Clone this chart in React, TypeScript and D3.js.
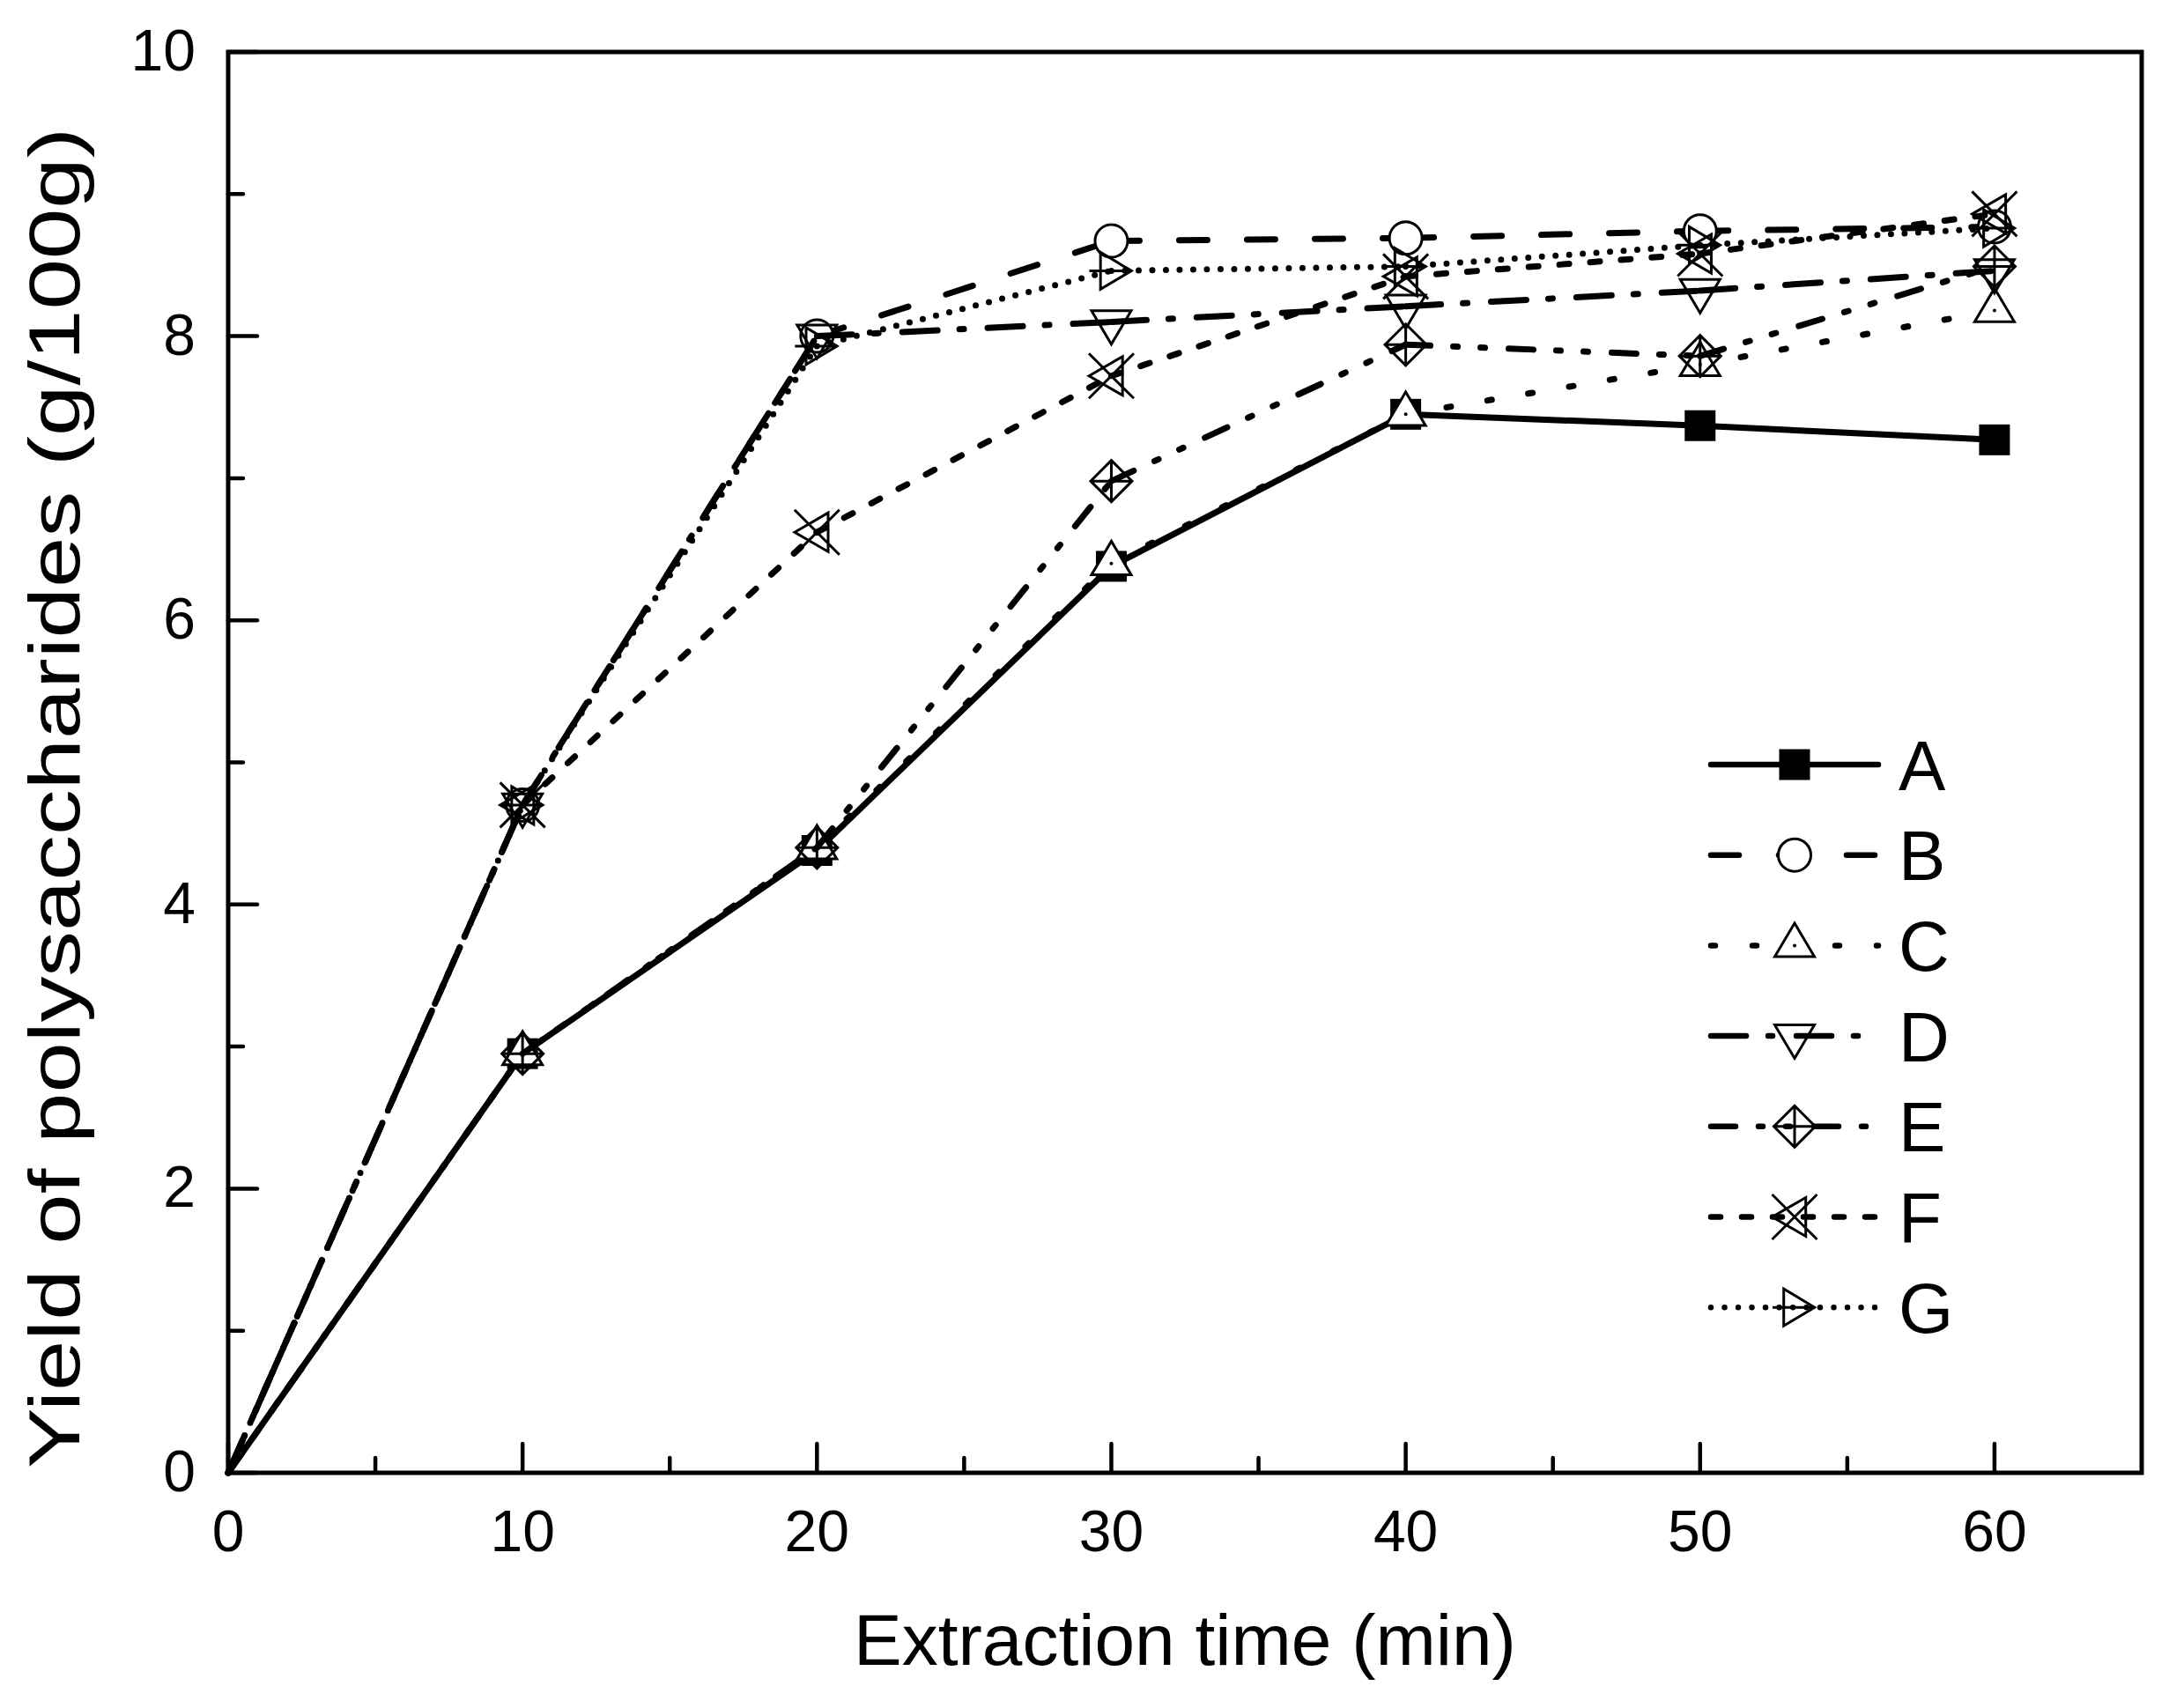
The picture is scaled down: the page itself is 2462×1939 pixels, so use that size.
import * as d3 from 'd3'
import React from 'react'

// extraction time (min)
const times = [0, 10, 20, 30, 40, 50, 60]

// yield of polysaccharides (g/100g)
const seriesA = [0, 2.95, 4.38, 6.38, 7.45, 7.37, 7.27]
const seriesB = [0, 4.7, 8.0, 8.67, 8.69, 8.74, 8.77]
const seriesC = [0, 2.95, 4.4, 6.4, 7.45, 7.8, 8.18]
const seriesD = [0, 4.7, 8.0, 8.1, 8.21, 8.32, 8.46]
const seriesE = [0, 2.95, 4.4, 6.98, 7.94, 7.86, 8.49]
const seriesF = [0, 4.7, 6.62, 7.72, 8.42, 8.58, 8.86]
const seriesG = [0, 4.7, 7.93, 8.46, 8.49, 8.64, 8.76]

const seriesNames = ['A', 'B', 'C', 'D', 'E', 'F', 'G']

const xMajorTicks = [0, 10, 20, 30, 40, 50, 60]
const xMinorTicks = [5, 15, 25, 35, 45, 55]
const yMajorTicks = [0, 2, 4, 6, 8, 10]
const yMinorTicks = [1, 3, 5, 7, 9]

type MarkerKind = 'square' | 'circle' | 'up' | 'down' | 'diamond' | 'xtri' | 'rtri'

interface Series {
  name: string
  values: number[]
  marker: MarkerKind
  dash: string | null
}

const styles: { marker: MarkerKind; dash: string | null }[] = [
  { marker: 'square', dash: null },
  { marker: 'circle', dash: '32 45' },
  { marker: 'up', dash: '5 42' },
  { marker: 'down', dash: '40 25 5 27' },
  { marker: 'diamond', dash: '28 26 5 26 5 27' },
  { marker: 'xtri', dash: '11 24' },
  { marker: 'rtri', dash: '0 15.5' }
]

const allValues = [seriesA, seriesB, seriesC, seriesD, seriesE, seriesF, seriesG]

const series: Series[] = seriesNames.map((name, i) => ({
  name,
  values: allValues[i],
  marker: styles[i].marker,
  dash: styles[i].dash
}))

const W = 2462
const H = 1939
const FONT = '"Liberation Sans", Arial, Helvetica, sans-serif'

const x = d3.scaleLinear().domain([0, 65]).range([259, 2431])
const y = d3.scaleLinear().domain([0, 10]).range([1672, 59])

function Marker({ kind, cx, cy }: { kind: MarkerKind; cx: number; cy: number }) {
  const sw = 3
  switch (kind) {
    case 'square':
      return <rect x={cx - 17.5} y={cy - 17.5} width={35} height={35} fill="#000" />
    case 'circle':
      return <circle cx={cx} cy={cy} r={18.5} fill="#fff" stroke="#000" strokeWidth={sw} />
    case 'up':
      return (
        <g>
          <path d={`M${cx},${cy - 25.3}L${cx + 22.5},${cy + 12.7}L${cx - 22.5},${cy + 12.7}Z`}
            fill="#fff" stroke="#000" strokeWidth={sw} strokeLinejoin="miter" />
          <circle cx={cx} cy={cy} r={2} fill="#000" />
        </g>
      )
    case 'down':
      return (
        <path d={`M${cx},${cy + 25.3}L${cx + 22.5},${cy - 12.7}L${cx - 22.5},${cy - 12.7}Z`}
          fill="none" stroke="#000" strokeWidth={sw} />
      )
    case 'diamond':
      return (
        <path
          d={`M${cx},${cy - 23.5}L${cx + 23.5},${cy}L${cx},${cy + 23.5}L${cx - 23.5},${cy}Z` +
            `M${cx},${cy - 23.5}L${cx},${cy + 23.5}M${cx - 23.5},${cy}L${cx + 23.5},${cy}`}
          fill="none" stroke="#000" strokeWidth={sw} />
      )
    case 'xtri':
      return (
        <path
          d={`M${cx - 25.5},${cy - 25.5}L${cx + 25.5},${cy + 25.5}M${cx - 25.5},${cy + 25.5}L${cx + 25.5},${cy - 25.5}` +
            `M${cx - 25.3},${cy}L${cx + 12.7},${cy - 22}L${cx + 12.7},${cy + 22}Z`}
          fill="none" stroke="#000" strokeWidth={sw} />
      )
    case 'rtri':
      return (
        <path
          d={`M${cx + 22.7},${cy}L${cx - 12.3},${cy - 21}L${cx - 12.3},${cy + 21}Z` +
            `M${cx - 25},${cy}L${cx + 22.7},${cy}`}
          fill="none" stroke="#000" strokeWidth={sw} />
      )
  }
  return null
}

const segLine = d3.line<[number, number]>()

export default function App() {
  const legendX0 = 1942
  const legendX1 = 2132
  const legendY0 = 868
  const legendStep = 102.7

  return (
    <svg width={W} height={H} viewBox={`0 0 ${W} ${H}`}
      style={{ position: 'absolute', left: 0, top: 0, background: '#fff' }}
      fontFamily={FONT}>
      <rect x={0} y={0} width={W} height={H} fill="#fff" />

      {/* series: each segment starts its dash pattern at the vertex */}
      {series.map(s => (
        <g key={s.name}>
          {s.values.slice(1).map((v, i) => {
            const p0: [number, number] = [x(times[i]), y(s.values[i])]
            const p1: [number, number] = [x(times[i + 1]), y(v)]
            return (
              <path key={i} d={segLine([p0, p1]) as string} fill="none" stroke="#000"
                strokeWidth={7} strokeLinecap="round"
                strokeDasharray={s.dash ?? undefined} />
            )
          })}
          {s.values.map((v, i) => (
            i === 0 ? null : <Marker key={i} kind={s.marker} cx={x(times[i])} cy={y(v)} />
          ))}
        </g>
      ))}

      {/* frame */}
      <rect x={x(0)} y={y(10)} width={x(65) - x(0)} height={y(0) - y(10)}
        fill="none" stroke="#000" strokeWidth={5} />

      {/* x ticks */}
      {xMajorTicks.map(t => (
        <g key={'xM' + t}>
          <line x1={x(t)} x2={x(t)} y1={y(0)} y2={y(0) - 33} stroke="#000" strokeWidth={4.5} strokeLinecap="round" />
          <text x={x(t)} y={1761} fontSize={66} textAnchor="middle">{t}</text>
        </g>
      ))}
      {xMinorTicks.map(t => (
        <line key={'xm' + t} x1={x(t)} x2={x(t)} y1={y(0)} y2={y(0) - 17} stroke="#000" strokeWidth={4.5} strokeLinecap="round" />
      ))}

      {/* y ticks */}
      {yMajorTicks.map(t => (
        <g key={'yM' + t}>
          <line x1={x(0)} x2={x(0) + 33} y1={y(t)} y2={y(t)} stroke="#000" strokeWidth={4.5} strokeLinecap="round" />
          <text x={222} y={y(t) + 21} fontSize={66} textAnchor="end">{t}</text>
        </g>
      ))}
      {yMinorTicks.map(t => (
        <line key={'ym' + t} x1={x(0)} x2={x(0) + 17} y1={y(t)} y2={y(t)} stroke="#000" strokeWidth={4.5} strokeLinecap="round" />
      ))}

      {/* axis titles */}
      <text x={1345} y={1890} fontSize={82} textAnchor="middle">Extraction time (min)</text>
      <text transform="translate(90,1667) rotate(-90)" fontSize={81}
        textLength={1522} lengthAdjust="spacingAndGlyphs">Yield of polysaccharides (g/100g)</text>

      {/* legend */}
      {series.map((s, i) => {
        const ly = legendY0 + i * legendStep
        const mx = (legendX0 + legendX1) / 2
        return (
          <g key={'leg' + s.name}>
            <line x1={legendX0} x2={legendX1} y1={ly} y2={ly} stroke="#000" strokeWidth={6.5}
              strokeLinecap="round" strokeDasharray={s.dash ?? undefined} />
            <Marker kind={s.marker} cx={mx} cy={ly} />
            <text x={2155} y={ly + 28.6} fontSize={80}>{s.name}</text>
          </g>
        )
      })}
    </svg>
  )
}
